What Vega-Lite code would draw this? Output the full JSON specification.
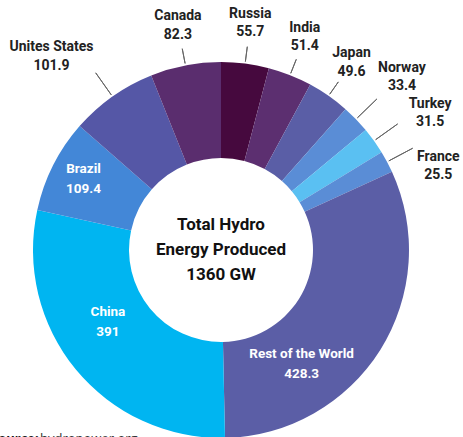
{
  "$schema": "https://vega.github.io/schema/vega-lite/v6.json",
  "width": 463,
  "height": 437,
  "autosize": "none",
  "padding": 0,
  "background": "white",
  "config": {"view": {"stroke": null}, "font": "Roboto"},
  "datasets": {
    "hydro": [
      {"country": "Russia", "value": 55.7, "order": 1},
      {"country": "India", "value": 51.4, "order": 2},
      {"country": "Japan", "value": 49.6, "order": 3},
      {"country": "Norway", "value": 33.4, "order": 4},
      {"country": "Turkey", "value": 31.5, "order": 5},
      {"country": "France", "value": 25.5, "order": 6},
      {"country": "Rest of the World", "value": 428.3, "order": 7},
      {"country": "China", "value": 391, "order": 8},
      {"country": "Brazil", "value": 109.4, "order": 9},
      {"country": "Unites States", "value": 101.9, "order": 10},
      {"country": "Canada", "value": 82.3, "order": 11}
    ]
  },
  "data": {"name": "hydro"},
  "transform": [
    {"stack": "value", "groupby": [], "sort": [{"field": "order", "order": "ascending"}], "as": ["v0", "v1"]},
    {"calculate": "(datum.v0 + datum.v1) / 2", "as": "mid"},
    {"calculate": "[datum.country, '' + datum.value]", "as": "lbl"}
  ],
  "layer": [
    {
      "mark": {"type": "arc", "x": 221, "y": 250, "radius": 188, "radius2": 92},
      "encoding": {
        "theta": {"field": "v0", "type": "quantitative", "stack": null, "scale": {"domain": [0, 1360], "range": [0, 6.283185307]}},
        "theta2": {"field": "v1"},
        "color": {
          "field": "country",
          "type": "nominal",
          "legend": null,
          "scale": {
            "domain": ["Russia", "India", "Japan", "Norway", "Turkey", "France", "Rest of the World", "China", "Brazil", "Unites States", "Canada"],
            "range": ["#46093e", "#5c2f70", "#5a5ea6", "#5a8dd6", "#5ac0f2", "#5a8dd6", "#5b5ea6", "#00b5f1", "#4387d7", "#5557a6", "#5a2d6e"]
          }
        }
      }
    },
    {
      "transform": [{"filter": {"field": "country", "oneOf": ["Russia", "India", "Japan", "Canada"]}}],
      "mark": {"type": "arc", "x": 221, "y": 250, "radius": 190, "radius2": 205, "fillOpacity": 0, "stroke": "#666666", "strokeWidth": 1},
      "encoding": {
        "theta": {"field": "mid", "type": "quantitative", "stack": null},
        "theta2": {"field": "mid"}
      }
    },
    {
      "transform": [{"filter": {"field": "country", "oneOf": ["Norway", "Turkey", "France", "Unites States"]}}],
      "mark": {"type": "arc", "x": 221, "y": 250, "radius": 190, "radius2": 217, "fillOpacity": 0, "stroke": "#666666", "strokeWidth": 1},
      "encoding": {
        "theta": {"field": "mid", "type": "quantitative", "stack": null},
        "theta2": {"field": "mid"}
      }
    },
    {
      "transform": [{"filter": {"field": "country", "oneOf": ["Russia", "India", "Japan", "Canada"]}}],
      "mark": {"type": "text", "x": 221, "y": 250, "radius": 228, "dy": -10, "fontSize": 14, "fontWeight": "bold", "color": "#222222", "lineHeight": 18.5, "baseline": "middle", "align": "center"},
      "encoding": {
        "theta": {"field": "mid", "type": "quantitative", "stack": null},
        "text": {"field": "lbl", "type": "nominal"}
      }
    },
    {
      "transform": [{"filter": {"field": "country", "oneOf": ["Norway"]}}],
      "mark": {"type": "text", "x": 221, "y": 250, "radius": 252, "dy": -7, "fontSize": 14, "fontWeight": "bold", "color": "#222222", "lineHeight": 18.5, "baseline": "middle", "align": "center"},
      "encoding": {
        "theta": {"field": "mid", "type": "quantitative", "stack": null},
        "text": {"field": "lbl", "type": "nominal"}
      }
    },
    {
      "transform": [{"filter": {"field": "country", "oneOf": ["Turkey"]}}],
      "mark": {"type": "text", "x": 221, "y": 250, "radius": 252, "dx": 4, "fontSize": 14, "fontWeight": "bold", "color": "#222222", "lineHeight": 18.5, "baseline": "middle", "align": "center"},
      "encoding": {
        "theta": {"field": "mid", "type": "quantitative", "stack": null},
        "text": {"field": "lbl", "type": "nominal"}
      }
    },
    {
      "transform": [{"filter": {"field": "country", "oneOf": ["France"]}}],
      "mark": {"type": "text", "x": 221, "y": 250, "radius": 237, "dx": 8, "dy": 18, "fontSize": 14, "fontWeight": "bold", "color": "#222222", "lineHeight": 18.5, "baseline": "middle", "align": "center"},
      "encoding": {
        "theta": {"field": "mid", "type": "quantitative", "stack": null},
        "text": {"field": "lbl", "type": "nominal"}
      }
    },
    {
      "transform": [{"filter": {"field": "country", "oneOf": ["Unites States"]}}],
      "mark": {"type": "text", "x": 221, "y": 250, "radius": 252, "dx": -24, "dy": 3, "fontSize": 14, "fontWeight": "bold", "color": "#222222", "lineHeight": 18.5, "baseline": "middle", "align": "center"},
      "encoding": {
        "theta": {"field": "mid", "type": "quantitative", "stack": null},
        "text": {"field": "lbl", "type": "nominal"}
      }
    },
    {
      "transform": [{"filter": {"field": "country", "oneOf": ["Brazil"]}}],
      "mark": {"type": "text", "x": 221, "y": 250, "radius": 145, "dx": -8, "dy": -16, "fontSize": 13.5, "fontWeight": "bold", "color": "white", "lineHeight": 20, "baseline": "middle", "align": "center"},
      "encoding": {
        "theta": {"field": "mid", "type": "quantitative", "stack": null},
        "text": {"field": "lbl", "type": "nominal"}
      }
    },
    {
      "transform": [{"filter": {"field": "country", "oneOf": ["China"]}}],
      "mark": {"type": "text", "x": 221, "y": 250, "radius": 140, "dx": -5, "dy": -27, "fontSize": 13.5, "fontWeight": "bold", "color": "white", "lineHeight": 20, "baseline": "middle", "align": "center"},
      "encoding": {
        "theta": {"field": "mid", "type": "quantitative", "stack": null},
        "text": {"field": "lbl", "type": "nominal"}
      }
    },
    {
      "transform": [{"filter": {"field": "country", "oneOf": ["Rest of the World"]}}],
      "mark": {"type": "text", "x": 221, "y": 250, "radius": 140, "dx": -38, "dy": 30, "fontSize": 13.5, "fontWeight": "bold", "color": "white", "lineHeight": 20, "baseline": "middle", "align": "center"},
      "encoding": {
        "theta": {"field": "mid", "type": "quantitative", "stack": null},
        "text": {"field": "lbl", "type": "nominal"}
      }
    },
    {
      "data": {"values": [{"t": ["Total Hydro", "Energy Produced", "1360 GW"]}]},
      "transform": [],
      "mark": {"type": "text", "x": 221, "y": 225, "fontSize": 17, "fontWeight": "bold", "color": "#111111", "lineHeight": 25, "baseline": "middle", "align": "center"},
      "encoding": {"text": {"field": "t", "type": "nominal"}}
    },
    {
      "data": {"values": [{"t": "Source:"}]},
      "transform": [],
      "mark": {"type": "text", "x": -9, "y": 443, "fontSize": 13, "fontWeight": "bold", "font": "Open Sans", "color": "#111111", "baseline": "alphabetic", "align": "left"},
      "encoding": {"text": {"field": "t", "type": "nominal"}}
    },
    {
      "data": {"values": [{"t": "hydropower.org"}]},
      "transform": [],
      "mark": {"type": "text", "x": 40, "y": 443, "fontSize": 13, "font": "Open Sans", "color": "#333333", "baseline": "alphabetic", "align": "left"},
      "encoding": {"text": {"field": "t", "type": "nominal"}}
    }
  ]
}
